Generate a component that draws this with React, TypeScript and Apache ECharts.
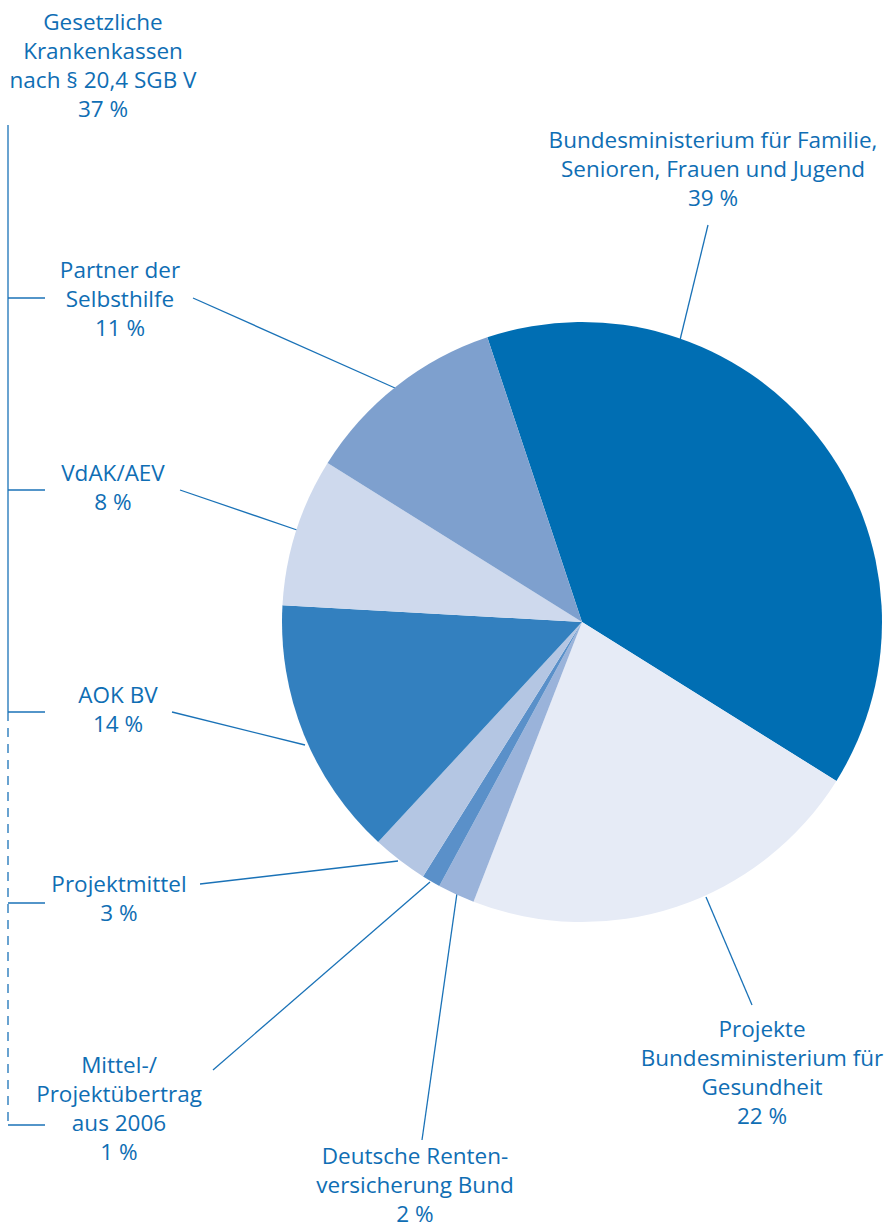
import React, { useEffect, useRef } from "react";
import * as echarts from "echarts";

const categories = [
  "Bundesministerium für Familie, Senioren, Frauen und Jugend",
  "Projekte Bundesministerium für Gesundheit",
  "Deutsche Rentenversicherung Bund",
  "Mittel-/Projektübertrag aus 2006",
  "Projektmittel",
  "AOK BV",
  "VdAK/AEV",
  "Partner der Selbsthilfe",
];
const values = [39, 22, 2, 1, 3, 14, 8, 11];
const colors = ["#006eb3", "#e6ebf6", "#9ab3da", "#5a90c9", "#b4c6e3", "#3380bf", "#ced9ed", "#7ea0ce"];

const TEXT = "#0f6eb4";
const LINE = "#1a72b7";

export default function App() {
  const ref = useRef<HTMLDivElement>(null);
  useEffect(() => {
    document.body.style.margin = "0";
    const chart = echarts.init(ref.current!, undefined, { renderer: "svg" });
    const txt = (x: number, y: number, s: string) => ({
      type: "text",
      x,
      y,
      silent: true,
      style: {
        text: s,
        fill: TEXT,
        font: '500 22.5px "Open Sans"',
        align: "center",
        verticalAlign: "top",
        lineHeight: 29,
      },
    });
    const ln = (x1: number, y1: number, x2: number, y2: number, dashed = false) => ({
      type: "line",
      silent: true,
      shape: { x1, y1, x2, y2 },
      style: { stroke: LINE, lineWidth: 1.3, lineDash: dashed ? [9, 7] : null },
    });
    chart.setOption({
      animation: false,
      series: [
        {
          type: "pie",
          center: [582, 622],
          radius: 300,
          startAngle: 108.4,
          silent: true,
          label: { show: false },
          labelLine: { show: false },
          data: categories.map((c, i) => ({ name: c, value: values[i], itemStyle: { color: colors[i] } })),
        },
      ],
      graphic: [
        txt(103, 7, "Gesetzliche\nKrankenkassen\nnach § 20,4 SGB V\n37 %"),
        txt(713, 125, "Bundesministerium für Familie,\nSenioren, Frauen und Jugend\n39 %"),
        txt(120, 255, "Partner der\nSelbsthilfe\n11 %"),
        txt(113, 458, "VdAK/AEV\n8 %"),
        txt(118, 680, "AOK BV\n14 %"),
        txt(119, 869, "Projektmittel\n3 %"),
        txt(119, 1050, "Mittel-/\nProjektübertrag\naus 2006\n1 %"),
        txt(415, 1141, "Deutsche Renten-\nversicherung Bund\n2 %"),
        txt(762, 1014, "Projekte\nBundesministerium für\nGesundheit\n22 %"),
        ln(708, 225, 680, 340),
        ln(193, 298, 395, 388),
        ln(180, 490, 297, 530),
        ln(172, 712, 305, 745),
        ln(200, 884, 398, 861),
        ln(213, 1070, 430, 882),
        ln(422, 1140, 458, 886),
        ln(752, 1005, 706, 897),
        ln(8, 125, 8, 712),
        ln(8, 712, 8, 1125, true),
        ln(8, 298, 45, 298),
        ln(8, 490, 45, 490),
        ln(8, 712, 45, 712),
        ln(8, 903, 45, 903),
        ln(8, 1125, 45, 1125),
      ],
    });
    return () => chart.dispose();
  }, []);
  return <div ref={ref} style={{ width: 893, height: 1228 }} />;
}
